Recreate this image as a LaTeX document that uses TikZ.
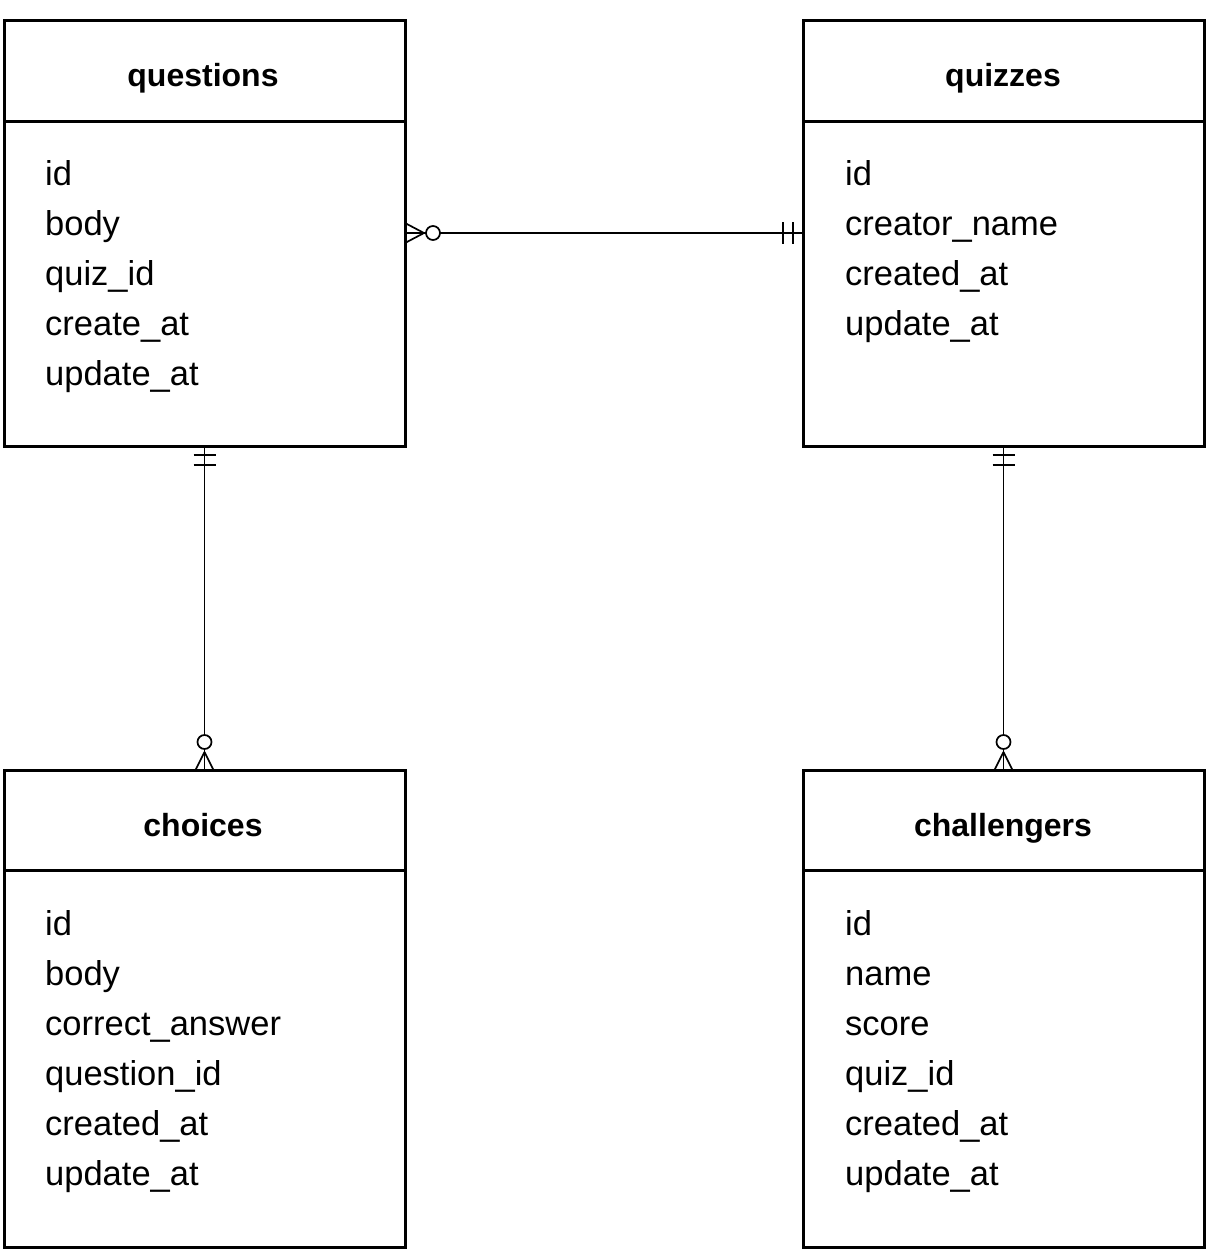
\documentclass[tikz,border=0pt]{standalone}
\usepackage{fontspec}
\setmainfont{Liberation Sans}
\usetikzlibrary{calc}
\begin{document}
\begin{tikzpicture}[x=1pt,y=-1pt,
  entity/.style={draw, line width=3pt, anchor=north west, minimum width=401pt, inner sep=0pt, outer sep=0pt},
  hdr/.style={anchor=base, font=\fontsize{32}{37}\selectfont\bfseries},
  attr/.style={anchor=base west, inner sep=0pt, font=\fontsize{34.5}{40}\selectfont},
  conn/.style={line width=1.7pt},
  ring/.style={conn, fill=white}]
\useasboundingbox (0,0) rectangle (1208,1250);

% entities
\node[entity, minimum height=426pt] (questions) at (4,20) {};
\node[entity, minimum height=426pt] (quizzes) at (803,20) {};
\node[entity, minimum height=477pt] (choices) at (4,770) {};
\node[entity, minimum height=477pt] (challengers) at (803,770) {};

% header separators
\draw[line width=3pt] (4,121) -- (405,121);
\draw[line width=3pt] (803,121) -- (1205,121);
\draw[line width=3pt] (4,870) -- (405,870);
\draw[line width=3pt] (803,870) -- (1205,870);

% titles
\node[hdr] (tq) at (203,86) {questions};
\node[hdr] (tz) at (1003,86) {quizzes};
\node[hdr] (tc) at (203,836) {choices};
\node[hdr] (tch) at (1003,836) {challengers};

% attributes
\node[attr] (q1) at (45,185) {id};
\node[attr] (q2) at (45,235) {body};
\node[attr] (q3) at (45,285) {quiz\_id};
\node[attr] (q4) at (45,335) {create\_at};
\node[attr] (q5) at (45,385) {update\_at};

\node[attr] (z1) at (845,185) {id};
\node[attr] (z2) at (845,235) {creator\_name};
\node[attr] (z3) at (845,285) {created\_at};
\node[attr] (z4) at (845,335) {update\_at};

\node[attr] (c1) at (45,935) {id};
\node[attr] (c2) at (45,985) {body};
\node[attr] (c3) at (45,1035) {correct\_answer};
\node[attr] (c4) at (45,1085) {question\_id};
\node[attr] (c5) at (45,1135) {created\_at};
\node[attr] (c6) at (45,1185) {update\_at};

\node[attr] (h1) at (845,935) {id};
\node[attr] (h2) at (845,985) {name};
\node[attr] (h3) at (845,1035) {score};
\node[attr] (h4) at (845,1085) {quiz\_id};
\node[attr] (h5) at (845,1135) {created\_at};
\node[attr] (h6) at (845,1185) {update\_at};

% connector questions -- quizzes
\draw[conn] (questions.east) -- (quizzes.west);
\draw[conn] ($(questions.east)+(19,0)$) -- ($(questions.east)+(0,-10)$)
            ($(questions.east)+(19,0)$) -- ($(questions.east)+(0,10)$);
\draw[ring] ($(questions.east)+(28,0)$) circle (7);
\draw[conn] ($(quizzes.west)+(-10,-11)$) -- ($(quizzes.west)+(-10,11)$)
            ($(quizzes.west)+(-20,-11)$) -- ($(quizzes.west)+(-20,11)$);

% connector questions -- choices
\draw[conn] (questions.south) -- (choices.north);
\draw[conn] ($(questions.south)+(-11,9)$) -- ($(questions.south)+(11,9)$)
            ($(questions.south)+(-11,19)$) -- ($(questions.south)+(11,19)$);
\draw[conn] ($(choices.north)+(0,-18)$) -- ($(choices.north)+(-9,0)$)
            ($(choices.north)+(0,-18)$) -- ($(choices.north)+(9,0)$);
\draw[ring] ($(choices.north)+(0,-28)$) circle (7);

% connector quizzes -- challengers
\draw[conn] (quizzes.south) -- (challengers.north);
\draw[conn] ($(quizzes.south)+(-11,9)$) -- ($(quizzes.south)+(11,9)$)
            ($(quizzes.south)+(-11,19)$) -- ($(quizzes.south)+(11,19)$);
\draw[conn] ($(challengers.north)+(0,-18)$) -- ($(challengers.north)+(-9,0)$)
            ($(challengers.north)+(0,-18)$) -- ($(challengers.north)+(9,0)$);
\draw[ring] ($(challengers.north)+(0,-28)$) circle (7);
\end{tikzpicture}
\end{document}
